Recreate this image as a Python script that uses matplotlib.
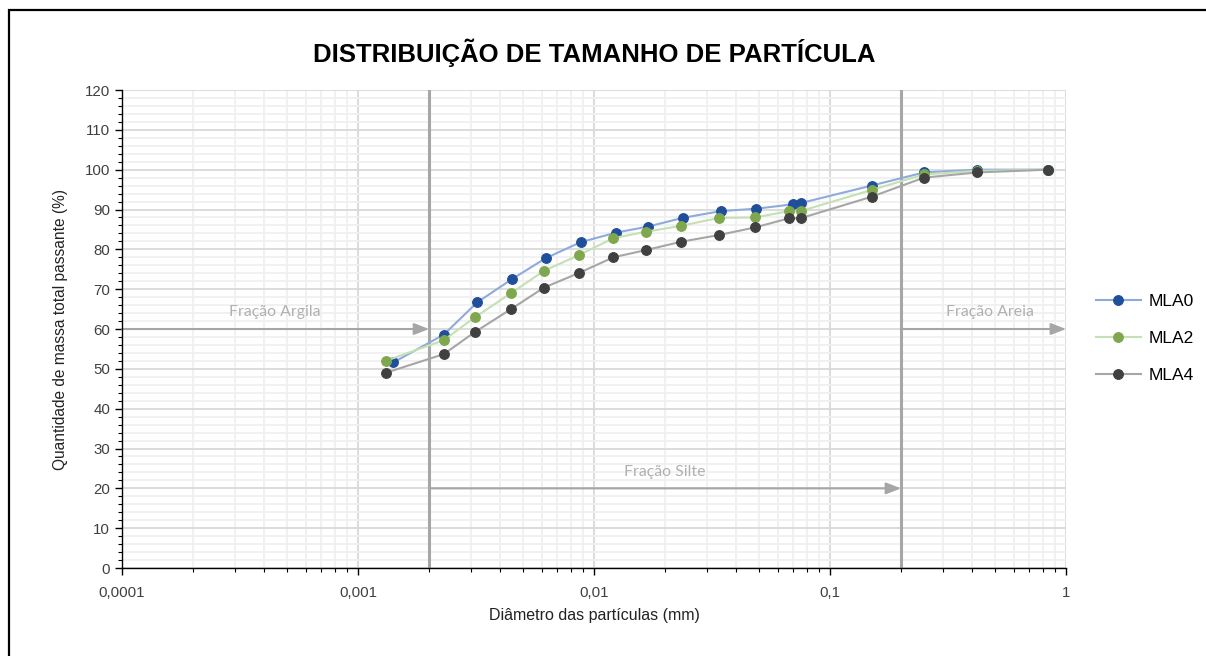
import matplotlib.pyplot as plt
from matplotlib.patches import Rectangle
from matplotlib.ticker import FixedLocator, FuncFormatter, MultipleLocator, LogLocator, NullFormatter

# diâmetros (mm) e % passante
d_mla0 = [0.00141, 0.00231, 0.00320, 0.00451, 0.00625, 0.00878, 0.01239, 0.01689,
          0.02376, 0.03443, 0.04858, 0.0695, 0.075, 0.15, 0.25, 0.42, 0.84]
p_mla0 = [51.6, 58.6, 66.7, 72.6, 77.8, 81.8, 84.2, 85.7,
          87.9, 89.6, 90.2, 91.3, 91.6, 96.0, 99.3, 100.0, 100.0]

d_mla2 = [0.00131, 0.00231, 0.00312, 0.00445, 0.00614, 0.00866, 0.01207, 0.01656,
          0.02336, 0.03386, 0.04810, 0.0671, 0.075, 0.15, 0.25, 0.42, 0.84]
p_mla2 = [52.0, 57.2, 62.9, 69.0, 74.6, 78.6, 82.8, 84.4,
          85.9, 87.9, 88.0, 89.6, 89.6, 94.9, 98.8, 99.7, 100.0]

d_mla4 = [0.00131, 0.00231, 0.00312, 0.00445, 0.00614, 0.00866, 0.01207, 0.01656,
          0.02336, 0.03386, 0.04810, 0.0671, 0.075, 0.15, 0.25, 0.42, 0.84]
p_mla4 = [49.0, 53.7, 59.2, 65.0, 70.4, 74.1, 78.0, 79.8,
          81.9, 83.6, 85.5, 87.8, 87.8, 93.2, 98.0, 99.3, 100.0]

series = [
    ("MLA0", d_mla0, p_mla0, "#8FAADC", "#1F4E9A"),
    ("MLA2", d_mla2, p_mla2, "#C5E0B4", "#7FA84E"),
    ("MLA4", d_mla4, p_mla4, "#A6A6A6", "#404040"),
]

fig = plt.figure(figsize=(12.06, 6.56), dpi=100)
ax = fig.add_axes([0.1012, 0.1341, 0.7827, 0.7287])

# moldura
fig.patches.append(Rectangle((0.0072, -0.5), 2.0, 1.5 - 0.0160, transform=fig.transFigure,
                             fill=False, ec="black", lw=1.6))

ax.set_xscale("log")
ax.set_xlim(1e-4, 1)
ax.set_ylim(0, 120)

# grade
ax.xaxis.set_major_locator(FixedLocator([1e-4, 1e-3, 1e-2, 1e-1, 1]))
ax.xaxis.set_minor_locator(LogLocator(base=10, subs=range(2, 10), numticks=20))
ax.xaxis.set_minor_formatter(NullFormatter())
ax.xaxis.set_major_formatter(FuncFormatter(lambda v, p: ("%g" % v).replace(".", ",") if v < 1 else "1"))
ax.yaxis.set_major_locator(MultipleLocator(10))
ax.yaxis.set_minor_locator(MultipleLocator(2))
ax.grid(which="minor", color="#F0F0F0", lw=1.3, zorder=0)
ax.grid(which="major", color="#D9D9D9", lw=1.3, zorder=0)
ax.set_axisbelow(True)

for s in ["top", "right"]:
    ax.spines[s].set_visible(False)
for s in ["left", "bottom"]:
    ax.spines[s].set_color("black")
    ax.spines[s].set_linewidth(1.0)
ax.tick_params(which="major", length=5, width=1, labelsize=10.8, colors="black")
ax.tick_params(which="minor", length=3, width=0.8)
ax.tick_params(axis="x", pad=8)

for lab in ax.get_xticklabels() + ax.get_yticklabels():
    lab.set_fontfamily("Liberation Sans")
    lab.set_color("#404040")

# limites das frações
for xv in [0.002, 0.2]:
    ax.axvline(xv, color="#A6A6A6", lw=2.2, zorder=1)

arrow = dict(arrowstyle="-|>,head_length=0.9,head_width=0.35", color="#A6A6A6", lw=1.5,
             shrinkA=0, shrinkB=0)
ax.annotate("", xy=(0.002, 60), xytext=(1e-4, 60), arrowprops=arrow, zorder=2)
ax.annotate("", xy=(1, 60), xytext=(0.2, 60), arrowprops=arrow, zorder=2, annotation_clip=False)
ax.annotate("", xy=(0.2, 20), xytext=(0.002, 20), arrowprops=arrow, zorder=2)

txt = dict(color="#B0B0B0", fontsize=11.4, family="Lato", ha="center", va="center")
ax.text(0.000445, 64.3, "Fração Argila", **txt)
ax.text(0.476, 64.3, "Fração Areia", **txt)
ax.text(0.020, 24.1, "Fração Silte", **txt)

for name, d, p, lc, mc in series:
    ax.plot(d, p, color=lc, lw=1.5, marker="o", ms=7, mfc=mc, mec=mc, mew=0.8,
            label=name, zorder=3)

ax.set_title("DISTRIBUIÇÃO DE TAMANHO DE PARTÍCULA", fontsize=18.5, fontweight="bold",
             family="Liberation Sans", pad=20)
ax.set_xlabel("Diâmetro das partículas (mm)", fontsize=11.5, family="Liberation Sans",
              color="#222222", labelpad=6)
ax.set_ylabel("Quantidade de massa total passante (%)", fontsize=11.2,
              family="Liberation Sans", color="#222222", labelpad=12)

leg = ax.legend(loc="center left", bbox_to_anchor=(1.015, 0.48), frameon=False,
                handlelength=2.6, labelspacing=1.25, handletextpad=0.45,
                prop={"family": "Liberation Sans", "size": 12.5})

fig.savefig("out.png", dpi=100)
